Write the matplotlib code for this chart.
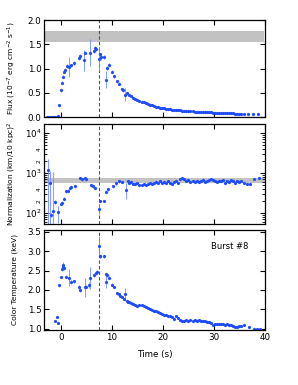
import numpy as np
import matplotlib
matplotlib.use("Agg")
import matplotlib.pyplot as plt
from matplotlib.ticker import FixedLocator, LogLocator, NullFormatter

# ---- flux panel (10^-7 erg/cm^2/s) ----
t_flux = [-2.78, -2.46, -2.14, -1.81, -1.49, -1.17, -0.85, -0.52, -0.32, -0.07,
          0.13, 0.32, 0.58, 0.78, 1.10, 1.62, 1.88, 2.58, 3.56, 3.83,
          4.50, 4.80, 5.63, 6.47, 6.60, 6.93, 7.44, 7.70, 7.90, 8.54,
          8.74, 9.06, 9.50, 10.0, 10.5, 10.9, 11.3, 11.9, 12.2, 12.6, 13.0]
flux = [0.01, 0.01, 0.01, 0.01, 0.01, 0.01, 0.01, 0.02, 0.255, 0.55,
        0.71, 0.83, 0.93, 0.98, 1.05, 1.03, 1.07, 1.12, 1.22, 1.26,
        1.17, 1.33, 1.33, 1.37, 1.43, 1.40, 1.19, 1.29, 1.24, 1.24,
        0.77, 1.02, 1.07, 0.93, 0.84, 0.74, 0.69, 0.57, 0.55, 0.46, 0.49]
flux_err = [0.01, 0.01, 0.01, 0.01, 0.01, 0.01, 0.01, 0.01, 0.02, 0.03,
            0.03, 0.03, 0.03, 0.03, 0.04, 0.21, 0.03, 0.04, 0.05, 0.04,
            0.22, 0.04, 0.28, 0.04, 0.04, 0.04, 0.25, 0.04, 0.06, 0.04,
            0.18, 0.04, 0.04, 0.03, 0.03, 0.03, 0.03, 0.03, 0.03, 0.13, 0.03]

t_tail = [13.4, 13.8, 14.2, 14.6, 15.0, 15.4, 15.8, 16.2, 16.6, 17.0,
          17.4, 17.8, 18.2, 18.6, 19.0, 19.4, 19.8, 20.2, 20.6, 21.0,
          21.4, 21.8, 22.2, 22.6, 23.0, 23.4, 23.8, 24.2, 24.6, 25.0,
          25.4, 25.8, 26.2, 26.6, 27.0, 27.4, 27.8, 28.2, 28.6, 29.0,
          29.4, 29.8, 30.2, 30.6, 31.0, 31.4, 31.8, 32.2, 32.6, 33.0,
          33.4, 33.8, 34.2, 34.6, 35.0, 35.4, 35.8]

flux_tail = [0.46, 0.43, 0.40, 0.38, 0.355, 0.335, 0.315, 0.30, 0.285, 0.265,
             0.25, 0.24, 0.225, 0.215, 0.205, 0.195, 0.185, 0.178, 0.172, 0.165,
             0.160, 0.155, 0.150, 0.146, 0.140, 0.136, 0.132, 0.128, 0.125, 0.121,
             0.118, 0.115, 0.112, 0.110, 0.107, 0.105, 0.102, 0.100, 0.098, 0.096,
             0.094, 0.092, 0.090, 0.088, 0.086, 0.084, 0.082, 0.080, 0.078, 0.076,
             0.075, 0.073, 0.072, 0.070, 0.069, 0.067, 0.066]
t_flux_late = [36.6, 37.6, 38.6]
flux_late = [0.062, 0.060, 0.058]

# ---- normalization panel ((km/10 kpc)^2) ----
t_norm = [-2.46, -2.14, -1.94, -1.50, -1.17, -0.52, -0.06, 0.26, 0.58, 0.97,
          1.42, 1.75, 2.07, 2.72, 3.69, 4.05, 4.66, 5.00, 5.80, 6.30,
          6.60, 7.44, 7.70, 8.54, 8.87, 9.20, 10.15, 10.8, 11.46, 12.0,
          12.75, 13.1]
norm = [1230, 570, 91, 113, 190, 105, 172, 183, 230, 350,
        360, 425, 450, 470, 760, 700, 735, 700, 500, 470,
        425, 130, 200, 200, 340, 390, 470, 550, 620, 600,
        370, 640]
norm_lo = [1190, 530, 10, 70, 20, 50, 15, 15, 20, 30,
           30, 30, 35, 35, 50, 50, 50, 50, 40, 40,
           35, 33, 15, 15, 30, 30, 35, 40, 45, 40,
           140, 45]
norm_hi = [970, 530, 10, 970, 25, 45, 15, 15, 20, 30,
           30, 30, 35, 35, 50, 50, 50, 50, 40, 40,
           35, 43, 15, 15, 30, 30, 35, 40, 45, 40,
           180, 45]
norm_tail = [560, 600, 540, 520, 560, 510, 500, 530, 510, 540,
             560, 530, 580, 600, 560, 620, 580, 600, 550, 640,
             580, 520, 600, 640, 560, 700, 760, 720, 620, 680,
             600, 650, 590, 640, 610, 640, 660, 600, 640, 680,
             720, 660, 640, 600, 650, 620, 660, 580, 640, 600,
             680, 620, 560, 650, 600, 620, 580]
t_norm_late = [36.4, 37.0, 37.9, 38.8]
norm_late = [540, 530, 730, 740]

# ---- color temperature panel (keV) ----
t_temp = [-1.16, -0.84, -0.55, -0.32, -0.07, 0.13, 0.32, 0.45, 0.58, 0.90,
          1.55, 1.88, 2.58, 3.56, 3.83, 4.66, 4.90, 5.50, 5.63, 6.40,
          6.80, 7.00, 7.44, 7.57, 7.75, 8.54, 8.74, 8.87, 9.05, 9.38,
          9.97, 10.5, 10.9, 11.3, 11.6, 12.0, 12.3, 12.6, 12.9, 13.1]
temp = [1.19, 1.31, 1.14, 2.13, 2.34, 2.53, 2.64, 2.58, 2.56, 2.34,
        2.32, 2.21, 2.23, 2.07, 2.00, 2.07, 2.08, 2.13, 2.30, 2.38,
        2.44, 2.47, 3.13, 2.87, 2.87, 2.87, 2.21, 2.40, 2.38, 2.32,
        2.14, 2.07, 1.91, 1.89, 1.85, 1.82, 1.76, 1.89, 1.72, 1.70]
temp_err = [0.02, 0.02, 0.02, 0.03, 0.03, 0.04, 0.08, 0.04, 0.04, 0.04,
            0.22, 0.05, 0.04, 0.05, 0.05, 0.24, 0.04, 0.08, 0.28, 0.05,
            0.06, 0.04, 0.26, 0.04, 0.04, 0.04, 0.17, 0.04, 0.04, 0.04,
            0.03, 0.03, 0.03, 0.03, 0.03, 0.03, 0.03, 0.17, 0.03, 0.03]
temp_tail = [1.68, 1.66, 1.64, 1.62, 1.59, 1.61, 1.62, 1.58, 1.55, 1.54,
             1.52, 1.49, 1.47, 1.45, 1.42, 1.41, 1.38, 1.36, 1.35, 1.34,
             1.32, 1.30, 1.26, 1.32, 1.28, 1.22, 1.19, 1.20, 1.22, 1.19,
             1.22, 1.21, 1.23, 1.20, 1.22, 1.20, 1.19, 1.20, 1.18, 1.17,
             1.14, 1.11, 1.12, 1.13, 1.13, 1.12, 1.13, 1.11, 1.12, 1.10,
             1.09, 1.07, 1.05, 1.05, 1.06, 1.08, 1.09]
t_temp_late = [36.8, 37.8, 38.4, 39.0]
temp_late = [1.05, 1.00, 1.00, 1.00]

t_peak = 7.5
flux_band = (1.55, 1.78)
norm_band = (560, 740)

blue = '#1f4cff'
ebar = '#6f8cff'
fs = 6.3      # tick labels
fs_lab = 5.4  # axis labels

plt.rcParams['font.family'] = 'DejaVu Sans'
plt.rcParams['font.size'] = fs

fig = plt.figure(figsize=(2.98, 3.85), dpi=100)
ax1 = fig.add_axes([0.148, 0.696, 0.741, 0.252])
ax2 = fig.add_axes([0.148, 0.418, 0.741, 0.260])
ax3 = fig.add_axes([0.148, 0.143, 0.741, 0.260])

mk = dict(fmt='o', ms=2.3, color=blue, ecolor=ebar, elinewidth=0.6,
          capsize=1.3, capthick=0.6, mew=0)

# flux
ax1.axhspan(*flux_band, xmin=0, xmax=0.995, color='#c2c2c2', lw=0, zorder=0)
ax1.errorbar(t_flux, flux, yerr=flux_err, **mk)
ax1.plot(t_tail, flux_tail, 'o', ms=2.3, color=blue, mew=0)
ax1.plot(t_flux_late, flux_late, 'o', ms=2.3, color=blue, mew=0)
ax1.set_ylim(0, 2.0)
ax1.set_yticks([0.0, 0.5, 1.0, 1.5, 2.0])
ax1.set_yticklabels(['0.0', '0.5', '1.0', '1.5', '2.0'])
ax1.set_ylabel('Flux (10$^{-7}$ erg cm$^{-2}$ s$^{-1}$)', fontsize=fs_lab)

# normalization
ax2.axhspan(*norm_band, color='#c2c2c2', lw=0, zorder=0)
ax2.errorbar(t_norm, norm, yerr=[norm_lo, norm_hi], **mk)
ax2.plot(t_tail, norm_tail, 'o', ms=2.3, color=blue, mew=0)
ax2.plot(t_norm_late, norm_late, 'o', ms=2.3, color=blue, mew=0)
ax2.set_yscale('log')
ax2.set_ylim(53, 17000)
ax2.yaxis.set_major_locator(FixedLocator([100, 1000, 10000]))
ax2.yaxis.set_minor_locator(LogLocator(base=10, subs=np.arange(2, 10)))
ax2.yaxis.set_minor_formatter(NullFormatter())
for v, s in [(200, '2'), (400, '4'), (2000, '2'), (4000, '4')]:
    ax2.text(-0.012, v, s, transform=ax2.get_yaxis_transform(), fontsize=4.2,
             rotation=90, ha='right', va='center')
ax2.set_ylabel('Normalization (km/10 kpc)$^2$', fontsize=fs_lab)

# color temperature
ax3.errorbar(t_temp, temp, yerr=temp_err, **mk)
ax3.plot(t_tail, temp_tail, 'o', ms=2.3, color=blue, mew=0)
ax3.plot(t_temp_late, temp_late, 'o', ms=2.3, color=blue, mew=0)
ax3.set_ylim(0.97, 3.55)
ax3.set_yticks([1.0, 1.5, 2.0, 2.5, 3.0, 3.5])
ax3.set_ylabel('Color Temperature (keV)', fontsize=fs_lab)
ax3.set_xlabel('Time (s)', fontsize=fs, labelpad=6)
ax3.text(0.84, 0.83, 'Burst #8', transform=ax3.transAxes, ha='center',
         va='center', fontsize=fs_lab + 0.6)

for ax in (ax1, ax2, ax3):
    ax.set_xlim(-3.3, 40)
    ax.set_xticks([0, 10, 20, 30, 40])
    ax.axvline(t_peak, color='#555555', lw=0.8, ls=(0, (3, 2)), zorder=1)
    ax.tick_params(which='both', direction='in', top=True, right=True,
                   labelsize=fs, pad=2)
    ax.tick_params(which='major', length=3.5, width=0.8)
    ax.tick_params(which='minor', length=2, width=0.6)
    for sp in ax.spines.values():
        sp.set_linewidth(0.9)
    ax.yaxis.set_label_coords(-0.12, 0.5)
for ax in (ax1, ax2):
    ax.tick_params(labelbottom=False)

fig.savefig('out.png', dpi=100)
